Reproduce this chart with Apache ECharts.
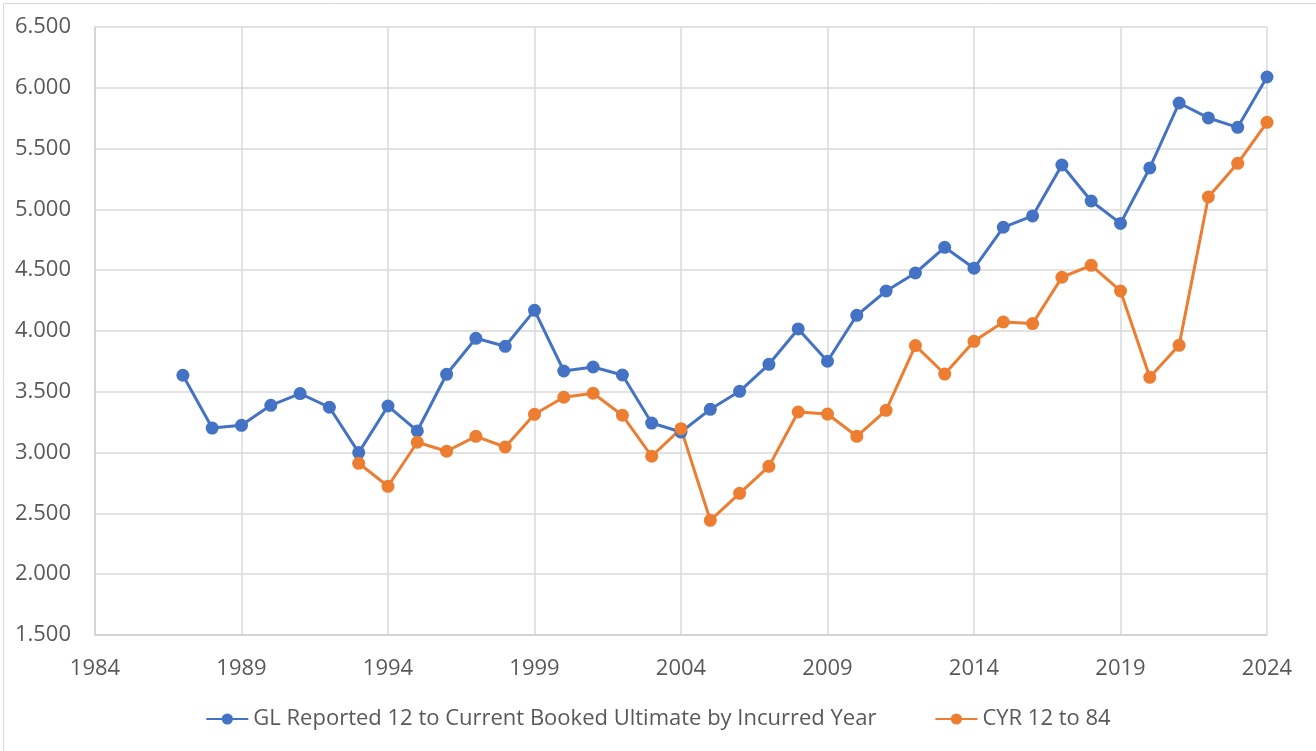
<!DOCTYPE html>
<html>
<head>
<meta charset="utf-8">
<script src="https://cdn.jsdelivr.net/npm/echarts@6/dist/echarts.min.js"></script>
<style>
html,body{margin:0;padding:0;background:#fff;}
#chart{width:1316px;height:751px;}
</style>
</head>
<body>
<div id="chart"></div>
<script>
const seriesNames = ["GL Reported 12 to Current Booked Ultimate by Incurred Year", "CYR 12 to 84"];
const glStartYear = 1987;
const glValues = [3.636, 3.202, 3.224, 3.389, 3.485, 3.373, 3.000, 3.383, 3.178, 3.644, 3.940, 3.874, 4.170,
  3.671, 3.704, 3.638, 3.243, 3.169, 3.356, 3.504, 3.726, 4.017, 3.751, 4.129, 4.329, 4.477, 4.688, 4.516,
  4.853, 4.946, 5.365, 5.069, 4.885, 5.341, 5.875, 5.752, 5.675, 6.089];
const cyrStartYear = 1993;
const cyrValues = [2.912, 2.723, 3.085, 3.011, 3.134, 3.046, 3.315, 3.455, 3.488, 3.307, 2.970, 3.197, 2.443,
  2.665, 2.887, 3.334, 3.317, 3.134, 3.348, 3.880, 3.646, 3.915, 4.074, 4.061, 4.442, 4.540, 4.329, 3.619,
  3.882, 5.102, 5.379, 5.716];
const xTicks = [1984, 1989, 1994, 1999, 2004, 2009, 2014, 2019, 2024];
const yTicks = [1.5, 2.0, 2.5, 3.0, 3.5, 4.0, 4.5, 5.0, 5.5, 6.0, 6.5];

const toPairs = (start, vals) => vals.map((v, i) => [start + i, v]);
const FONT = '"Open Sans", "Noto Sans", sans-serif';
const TXT = '#595959';

const chart = echarts.init(document.getElementById('chart'), null, {renderer: 'canvas'});
chart.setOption({
  animation: false,
  backgroundColor: '#fff',
  graphic: [{
    type: 'rect', left: 1, top: 1, silent: true,
    shape: {width: 1313, height: 748},
    style: {fill: 'none', stroke: '#d9d9d9', lineWidth: 1}
  }],
  grid: {left: 95, right: 49, top: 27, bottom: 116, containLabel: false},
  legend: {
    top: 703, left: 'center', itemGap: 58, itemWidth: 42, itemHeight: 14,
    textStyle: {color: TXT, fontSize: 22, fontFamily: FONT},
    data: seriesNames
  },
  xAxis: {
    type: 'value', min: xTicks[0], max: xTicks[xTicks.length - 1], interval: 5,
    axisLine: {show: true, lineStyle: {color: '#d0d0d0', width: 1.5}},
    axisTick: {show: false},
    axisLabel: {color: TXT, fontSize: 22, fontFamily: FONT, margin: 23, formatter: v => String(v)},
    splitLine: {show: true, lineStyle: {color: '#d9d9d9', width: 1.5}}
  },
  yAxis: {
    type: 'value', min: yTicks[0], max: yTicks[yTicks.length - 1], interval: 0.5,
    axisLine: {show: true, lineStyle: {color: '#d0d0d0', width: 1.5}},
    axisTick: {show: false},
    axisLabel: {color: TXT, fontSize: 22, fontFamily: FONT, margin: 24, formatter: v => v.toFixed(3)},
    splitLine: {show: true, lineStyle: {color: '#d9d9d9', width: 1.5}}
  },
  series: [
    {
      name: seriesNames[0], type: 'line', data: toPairs(glStartYear, glValues),
      symbol: 'circle', symbolSize: 13, color: '#4472C4',
      lineStyle: {width: 3, color: '#4472C4'}, itemStyle: {color: '#4472C4'}
    },
    {
      name: seriesNames[1], type: 'line', data: toPairs(cyrStartYear, cyrValues),
      symbol: 'circle', symbolSize: 13, color: '#ED7D31',
      lineStyle: {width: 3, color: '#ED7D31'}, itemStyle: {color: '#ED7D31'}
    }
  ]
});
</script>
</body>
</html>
